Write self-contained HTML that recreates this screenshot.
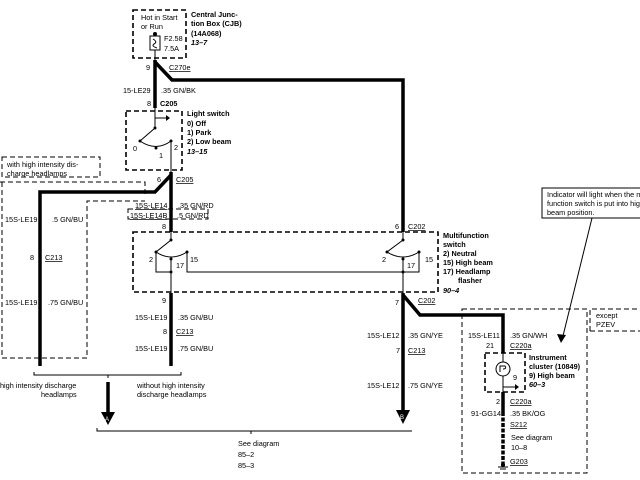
<!DOCTYPE html>
<html><head><meta charset="utf-8"><style>
html,body{margin:0;padding:0;background:#fff}
svg{display:block}
text{font-family:"Liberation Sans",sans-serif;font-size:7.3px;fill:#000}
.b{font-weight:bold}
.i{font-style:italic;font-weight:bold}
</style></head><body>
<svg width="640" height="480" viewBox="0 0 640 480" xmlns="http://www.w3.org/2000/svg">
<g fill="none" stroke="#000">
<g stroke-width="1.6" stroke-dasharray="5,3">
<rect x="133" y="10" width="53" height="48"/>
<rect x="126" y="111" width="56" height="59"/>
<rect x="133" y="232" width="305" height="60"/>
<rect x="485" y="353" width="40" height="39"/>
</g>
<g stroke-width="1" stroke-dasharray="5,3">
<rect x="2" y="157" width="98" height="20"/>
<path d="M0,182 H145 V195"/>
<path d="M2,182 V358 H87 V201 H145"/>
<rect x="128" y="209" width="80" height="10"/>
<rect x="462" y="309" width="125" height="164"/>
<path d="M590,331 V309 H640 M590,331 H640"/>
</g>
<g stroke-width="3.5">
<path d="M155,60 V108"/>
<path d="M155,62 L172,80 H403 V232"/>
<path d="M171,172 V232"/>
<path d="M171,175 L155,192 H40 V366"/>
<path d="M171,293 V366"/>
<path d="M403,293 V410"/>
<path d="M403,295 L420,315 H503 V353"/>
<path d="M503,392 V412"/>
<path d="M108,382 V412"/>
</g>
<path d="M503,412 V465" stroke-width="3.5" stroke-dasharray="4,1.5"/>
<g stroke-width="1">
<path d="M155,108 V128 L140,141"/>
<path d="M155,118 H166"/>
<path d="M140,141 Q156,152 171,141 V172"/>
<path d="M171,232 V240 L156,252 Q171,262 187,252 V272 H403"/>
<path d="M156,252 V272 H171 M171,259 V293"/>
<path d="M403,232 V240 L387,252 Q403,262 419,252 V272 H403 M403,259 V293"/>
<path d="M503,353 V362 M503,376 V392 M503,387 H515"/>
<circle cx="503" cy="369" r="7"/>
<path d="M500,372 V366 H505 Q507,369 503,369"/>
<path d="M34,372 V375 H181 V372 M108,375 V378"/>
<path d="M97,428 V431 H412 M251,431 V434"/>
<rect x="542" y="188" width="100" height="30"/>
<path d="M592,218 L562,340"/>
<rect x="150" y="36" width="10" height="14"/>
<path d="M155,33 V36 M155,50 V60 M153,39 Q158,42 154,44 Q151,46 157,48"/>
<path d="M498,467 H508 M500,469 H506"/>
</g>
</g>
<g fill="#000">
<circle cx="155" cy="34" r="2"/>
<circle cx="155" cy="128" r="1.5"/><circle cx="140" cy="141" r="1.5"/><circle cx="156" cy="148" r="1.5"/><circle cx="171" cy="141" r="1.5"/>
<circle cx="171" cy="240" r="1.5"/><circle cx="156" cy="252" r="1.5"/><circle cx="171" cy="259" r="1.5"/><circle cx="187" cy="252" r="1.5"/><circle cx="171" cy="272" r="1.5"/>
<circle cx="403" cy="240" r="1.5"/><circle cx="387" cy="252" r="1.5"/><circle cx="403" cy="259" r="1.5"/><circle cx="419" cy="252" r="1.5"/><circle cx="403" cy="272" r="1.5"/>
<path d="M166,115 L170,118 L166,121Z"/><path d="M515,384 L519,387 L515,390Z"/>
<path d="M101,412 H115 L108,425Z"/><path d="M396,410 H410 L403,424Z"/>
<path d="M557,334 L561,343 L566,335Z"/>
<circle cx="503" cy="465" r="2"/>
</g>
<text x="105" y="421" style="font-size:6px;fill:#fff">A</text>
<text x="400" y="419" style="font-size:6px;fill:#fff">B</text>
<text x="141" y="20">Hot in Start</text><text x="141" y="29">or Run</text>
<text x="164" y="41">F2.58</text><text x="164" y="51">7.5A</text>
<text x="191" y="17" class="b">Central Junc-</text><text x="191" y="26" class="b">tion Box (CJB)</text><text x="191" y="36" class="b">(14A068)</text><text x="191" y="45" class="i">13–7</text>
<text x="146" y="70">9</text><text x="169" y="70" text-decoration="underline">C270e</text>
<text x="123" y="93">15-LE29</text><text x="161" y="93">.35 GN/BK</text>
<text x="147" y="106">8</text><text x="160" y="106" class="b">C205</text>
<text x="187" y="116" class="b">Light switch</text><text x="187" y="126" class="b">0)   Off</text><text x="187" y="135" class="b">1)   Park</text><text x="187" y="144" class="b">2)   Low beam</text><text x="187" y="154" class="i">13–15</text>
<text x="133" y="151">0</text><text x="159" y="158">1</text><text x="174" y="150">2</text>
<text x="7" y="167">with high intensity dis-</text><text x="7" y="176">charge headlamps</text>
<text x="157" y="182">6</text><text x="176" y="182" text-decoration="underline">C205</text>
<text x="135" y="208" text-decoration="underline">15S-LE14</text><text x="178" y="208">.35 GN/RD</text>
<text x="130" y="218" text-decoration="underline">15S-LE14B</text><text x="177" y="218">.5 GN/RD</text>
<text x="162" y="229">8</text>
<text x="5" y="222">15S-LE19</text><text x="52" y="222">.5 GN/BU</text>
<text x="30" y="260">8</text><text x="45" y="260" text-decoration="underline">C213</text>
<text x="5" y="305">15S-LE19</text><text x="48" y="305">.75 GN/BU</text>
<text x="149" y="262">2</text><text x="176" y="268">17</text><text x="190" y="262">15</text>
<text x="382" y="262">2</text><text x="407" y="268">17</text><text x="425" y="262">15</text>
<text x="395" y="229">6</text><text x="408" y="229" text-decoration="underline">C202</text>
<text x="443" y="238" class="b">Multifunction</text><text x="443" y="247" class="b">switch</text><text x="443" y="256" class="b">2)   Neutral</text><text x="443" y="265" class="b">15)  High beam</text><text x="443" y="274" class="b">17)  Headlamp</text><text x="458" y="283" class="b">flasher</text><text x="443" y="293" class="i">90–4</text>
<text x="162" y="303">9</text><text x="135" y="320">15S-LE19</text><text x="178" y="320">.35 GN/BU</text>
<text x="163" y="334">8</text><text x="176" y="334" text-decoration="underline">C213</text>
<text x="135" y="351">15S-LE19</text><text x="178" y="351">.75 GN/BU</text>
<text x="395" y="305">7</text><text x="418" y="303" text-decoration="underline">C202</text>
<text x="367" y="338">15S-LE12</text><text x="408" y="338">.35 GN/YE</text>
<text x="396" y="353">7</text><text x="408" y="353" text-decoration="underline">C213</text>
<text x="367" y="388">15S-LE12</text><text x="408" y="388">.75 GN/YE</text>
<text x="547" y="197">Indicator will light when the m</text><text x="547" y="206">function switch is put into high</text><text x="547" y="215">beam position.</text>
<text x="596" y="318">except</text><text x="596" y="327">PZEV</text>
<text x="468" y="338">15S-LE11</text><text x="510" y="338">.35 GN/WH</text>
<text x="486" y="348">21</text><text x="510" y="348" text-decoration="underline">C220a</text>
<text x="529" y="360" class="b">Instrument</text><text x="529" y="369" class="b">cluster (10849)</text><text x="529" y="378" class="b">9)   High beam</text><text x="529" y="387" class="i">60–3</text>
<text x="513" y="380">9</text>
<text x="496" y="404">2</text><text x="510" y="404" text-decoration="underline">C220a</text>
<text x="471" y="416">91-GG14</text><text x="510" y="416">.35 BK/OG</text>
<text x="510" y="427" text-decoration="underline">S212</text>
<text x="511" y="440">See diagram</text><text x="511" y="450">10–8</text>
<text x="510" y="464" text-decoration="underline">G203</text>
<text x="0" y="388">high intensity discharge</text><text x="41" y="397">headlamps</text>
<text x="137" y="388">without high intensity</text><text x="137" y="397">discharge headlamps</text>
<text x="238" y="446">See diagram</text><text x="238" y="457">85–2</text><text x="238" y="468">85–3</text>
</svg>
</body></html>
